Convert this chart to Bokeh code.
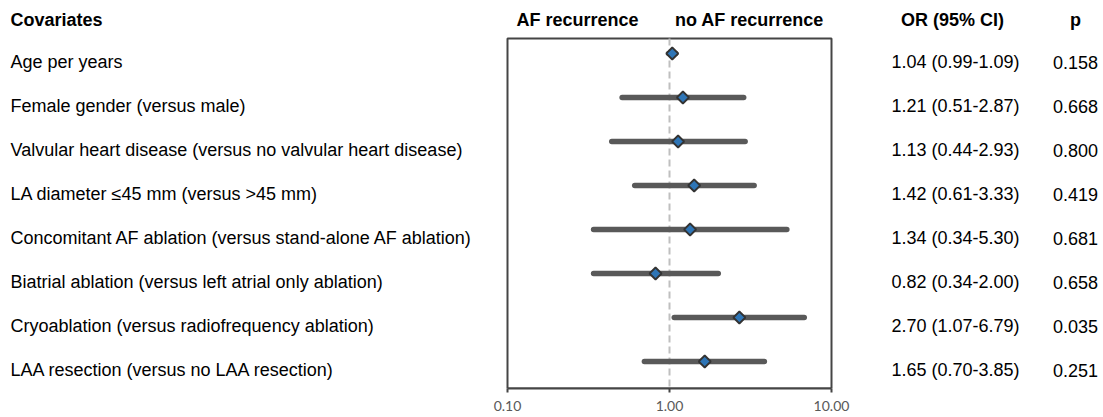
import numpy as np
from bokeh.plotting import figure
from bokeh.models import ColumnDataSource, FixedTicker, NumeralTickFormatter, Range1d, LogScale, LogAxis
from bokeh.core.properties import value
from bokeh.embed import file_html
from bokeh.resources import INLINE

covariates = [
    "Age per years",
    "Female gender (versus male)",
    "Valvular heart disease (versus no valvular heart disease)",
    "LA diameter \u226445 mm (versus >45 mm)",
    "Concomitant AF ablation (versus stand-alone AF ablation)",
    "Biatrial ablation (versus left atrial only ablation)",
    "Cryoablation (versus radiofrequency ablation)",
    "LAA resection (versus no LAA resection)",
]
odds_ratio = [1.04, 1.21, 1.13, 1.42, 1.34, 0.82, 2.70, 1.65]
ci_low = [0.99, 0.51, 0.44, 0.61, 0.34, 0.34, 1.07, 0.70]
ci_high = [1.09, 2.87, 2.93, 3.33, 5.30, 2.00, 6.79, 3.85]
p_values = ["0.158", "0.668", "0.800", "0.419", "0.681", "0.658", "0.035", "0.251"]
x_ticks = [0.1, 1.0, 10.0]
x_min, x_max = 0.1, 10.0
reference_or = 1.0
headers = ["Covariates", "AF recurrence", "no AF recurrence", "OR (95% CI)", "p"]

n = len(covariates)
rows = list(range(n))
or_text = [f"{o:.2f} ({l:.2f}-{h:.2f})" for o, l, h in zip(odds_ratio, ci_low, ci_high)]

# layout (pixels)
FRAME_W, FRAME_H = 1100, 388
BOX_L, BOX_R = 507, 831
ROW0, ROW_H = 53, 44
BOX_TOP = 38

FONT = "Liberation Sans"
FS = "18px"
DARK = "#595959"
BOXC = "#454545"

# log range spanning the full frame so that [x_min, x_max] maps onto the box
dec = np.log10(x_max) - np.log10(x_min)
px_per_dec = (BOX_R - BOX_L) / dec
log_start = 10 ** (np.log10(x_min) - BOX_L / px_per_dec)
log_end = 10 ** (np.log10(x_max) + (FRAME_W - BOX_R) / px_per_dec)

y_top = -ROW0 / ROW_H
y_bot = (FRAME_H - ROW0) / ROW_H
y_box_top = (BOX_TOP - ROW0) / ROW_H

p = figure(
    frame_width=FRAME_W, frame_height=FRAME_H,
    x_range=Range1d(0, FRAME_W), y_range=Range1d(y_bot, y_top),
    x_axis_location=None, y_axis_location=None,
    min_border_left=0, min_border_right=0, min_border_top=0, min_border_bottom=0,
    output_backend="svg", toolbar_location=None,
)
p.grid.visible = False
p.outline_line_color = None
p.extra_x_ranges = {"log": Range1d(log_start, log_end)}
p.extra_x_scales = {"log": LogScale()}

ax = LogAxis(x_range_name="log", bounds=(x_min, x_max))
ax.ticker = FixedTicker(ticks=x_ticks)
ax.formatter = NumeralTickFormatter(format="0.00")
ax.minor_tick_line_color = None
ax.major_tick_in = 0
ax.major_tick_out = 4
ax.major_tick_line_color = BOXC
ax.major_tick_line_width = 2
ax.axis_line_color = BOXC
ax.axis_line_width = 2
ax.major_label_text_font = "Lato"
ax.major_label_text_font_size = "14px"
ax.major_label_text_color = DARK
ax.major_label_standoff = 8
p.add_layout(ax, "below")

# box
p.quad(left=[x_min], right=[x_max], top=[y_box_top], bottom=[y_bot],
       x_range_name="log", fill_color=None, line_color=BOXC, line_width=2)
# reference line
p.segment(x0=[reference_or], x1=[reference_or], y0=[y_box_top], y1=[y_bot],
          x_range_name="log", line_color="#BFBFBF", line_width=2, line_dash="7 4")

src = ColumnDataSource(dict(
    y=rows, lo=ci_low, hi=ci_high, orv=odds_ratio,
    ty=[r + 0.2 for r in rows], cov=covariates, ortxt=or_text, pv=p_values,
))
p.segment(x0="lo", x1="hi", y0="y", y1="y", source=src, x_range_name="log",
          line_color=DARK, line_width=5.5, line_cap="round")
p.scatter(x="orv", y="y", source=src, x_range_name="log", marker="square",
          angle=np.pi / 4, size=8.5, fill_color="#2E75B6", line_color="#333333", line_width=1.8)

for col, x, align in [("cov", 10, "left"), ("ortxt", 955, "center"), ("pv", 1075, "center")]:
    p.text(x=x, y="ty", text=col, source=src, text_align=align, text_baseline="alphabetic",
           text_font=value(FONT), text_font_size=FS, text_color="black")

header_y = -0.759
hx = [10, 577, 749, 952, 1075]
halign = ["left", "center", "center", "center", "center"]
p.text(x=hx, y=[header_y] * len(hx), text=headers, text_align=halign,
       text_baseline="alphabetic", text_font=value(FONT), text_font_size=FS,
       text_font_style="bold", text_color="black")

open("out.html", "w").write(file_html(p, INLINE))
